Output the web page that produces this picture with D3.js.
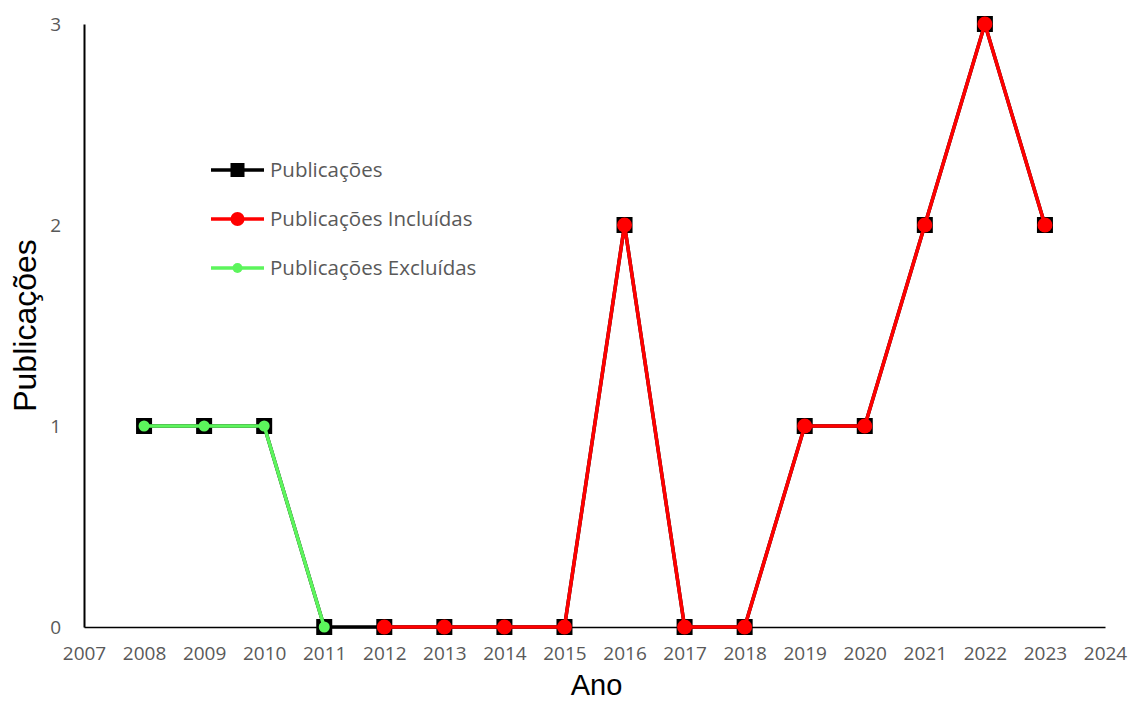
<!DOCTYPE html>
<html>
<head>
<meta charset="utf-8">
<script src="https://cdn.jsdelivr.net/npm/d3@7"></script>
<style>
  html, body { margin: 0; padding: 0; background: #fff; }
  svg { display: block; }
</style>
</head>
<body>
<svg id="chart" width="1133" height="702"></svg>
<script>
// Publication counts per year
const years = [2008, 2009, 2010, 2011, 2012, 2013, 2014, 2015, 2016, 2017, 2018, 2019, 2020, 2021, 2022, 2023];
const publicacoes = [1, 1, 1, 0, 0, 0, 0, 0, 2, 0, 0, 1, 1, 2, 3, 2];
const incluidasYears = [2012, 2013, 2014, 2015, 2016, 2017, 2018, 2019, 2020, 2021, 2022, 2023];
const incluidas = [0, 0, 0, 0, 2, 0, 0, 1, 1, 2, 3, 2];
const excluidasYears = [2008, 2009, 2010, 2011];
const excluidas = [1, 1, 1, 0];
const xTicks = d3.range(2007, 2025);
const yTicks = [0, 1, 2, 3];

const svg = d3.select("#chart");
const margin = { left: 84, right: 28, top: 24, bottom: 75 };
const W = 1133, H = 702;

const x = d3.scaleLinear().domain([2007, 2024]).range([margin.left, W - margin.right]);
const y = d3.scaleLinear().domain([0, 3]).range([H - margin.bottom, margin.top]);

const tickFont = "'Open Sans', 'Noto Sans', sans-serif";
const tickColor = "#595959";

// Y axis
const yAxis = svg.append("g")
  .attr("transform", `translate(${x(2007)},0)`)
  .call(d3.axisLeft(y).tickValues(yTicks).tickSize(0).tickPadding(23).tickFormat(d3.format("d")));
yAxis.select(".domain").attr("stroke", "#000").attr("stroke-width", 2);
yAxis.selectAll("text").attr("fill", tickColor).style("font-family", tickFont).style("font-size", "19px");

// X axis
const xAxis = svg.append("g")
  .attr("transform", `translate(0,${y(0)})`)
  .call(d3.axisBottom(x).tickValues(xTicks).tickSize(0).tickPadding(20).tickFormat(d3.format("d")));
xAxis.select(".domain").attr("stroke", "#000").attr("stroke-width", 1.5);
xAxis.selectAll("text").attr("fill", tickColor).style("font-family", tickFont).style("font-size", "19px");

// Axis titles
svg.append("text")
  .attr("x", x(2015.5) + 2).attr("y", 695)
  .attr("text-anchor", "middle")
  .style("font-family", "'Liberation Sans', Arial, sans-serif")
  .style("font-size", "29px").attr("fill", "#000")
  .text("Ano");
svg.append("text")
  .attr("transform", `translate(36,${y(1.5)}) rotate(-90)`)
  .attr("text-anchor", "middle")
  .style("font-family", "'Liberation Sans', Arial, sans-serif")
  .style("font-size", "32px").attr("fill", "#000")
  .text("Publicações");

const line = d3.line().x(d => x(d[0])).y(d => y(d[1]));

// Total publications: black line with square markers
const totalPts = years.map((yr, i) => [yr, publicacoes[i]]);
svg.append("path").datum(totalPts).attr("d", line)
  .attr("fill", "none").attr("stroke", "#000").attr("stroke-width", 3.5);
svg.selectAll(".sq").data(totalPts).enter().append("rect")
  .attr("x", d => x(d[0]) - 8).attr("y", d => y(d[1]) - 8)
  .attr("width", 16).attr("height", 16).attr("fill", "#000");

// Included publications: red line with circle markers
const inclPts = incluidasYears.map((yr, i) => [yr, incluidas[i]]);
svg.append("path").datum(inclPts).attr("d", line)
  .attr("fill", "none").attr("stroke", "#ff0000").attr("stroke-width", 3.5);
svg.selectAll(".rc").data(inclPts).enter().append("circle")
  .attr("cx", d => x(d[0])).attr("cy", d => y(d[1])).attr("r", 7.5).attr("fill", "#ff0000");

// Excluded publications: green line with small circle markers
const exclPts = excluidasYears.map((yr, i) => [yr, excluidas[i]]);
svg.append("path").datum(exclPts).attr("d", line)
  .attr("fill", "none").attr("stroke", "#5cf55c").attr("stroke-width", 3.5);
svg.selectAll(".gc").data(exclPts).enter().append("circle")
  .attr("cx", d => x(d[0])).attr("cy", d => y(d[1])).attr("r", 5.5).attr("fill", "#5cf55c");

// Legend
const legend = [
  { label: "Publicações", color: "#000", shape: "square" },
  { label: "Publicações Incluídas", color: "#ff0000", shape: "big" },
  { label: "Publicações Excluídas", color: "#5cf55c", shape: "small" }
];
const lg = svg.append("g");
legend.forEach((d, i) => {
  const cy = 170 + i * 49;
  lg.append("line").attr("x1", 211).attr("x2", 264).attr("y1", cy).attr("y2", cy)
    .attr("stroke", d.color).attr("stroke-width", 3.5);
  if (d.shape === "square") {
    lg.append("rect").attr("x", 237.5 - 7).attr("y", cy - 7).attr("width", 14).attr("height", 14).attr("fill", d.color);
  } else {
    lg.append("circle").attr("cx", 237.5).attr("cy", cy).attr("r", d.shape === "big" ? 7 : 5).attr("fill", d.color);
  }
  lg.append("text").attr("x", 270).attr("y", cy).attr("dy", "0.35em")
    .style("font-family", tickFont).style("font-size", "20.5px").attr("fill", tickColor)
    .text(d.label);
});
</script>
</body>
</html>
